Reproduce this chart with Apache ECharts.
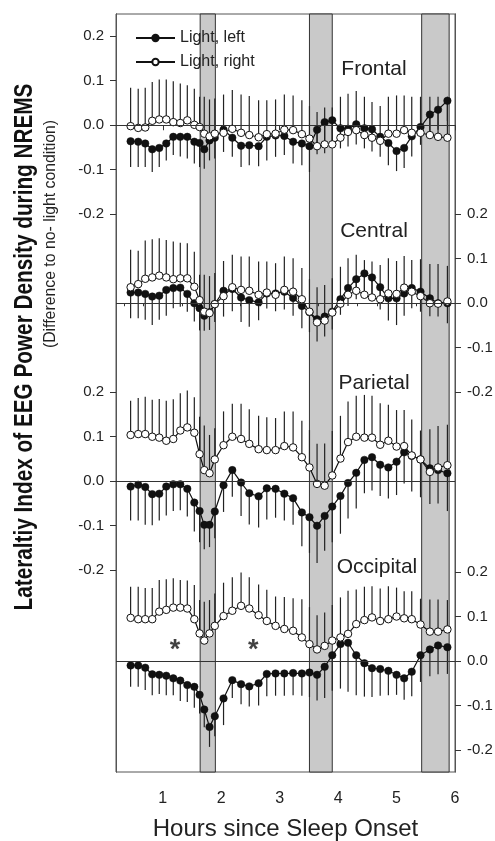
<!DOCTYPE html>
<html>
<head>
<meta charset="utf-8">
<script src="https://cdn.jsdelivr.net/npm/echarts@6/dist/echarts.min.js"></script>
<style>
html,body{margin:0;padding:0;background:#fff;}
#c{width:495px;height:841px;}
</style>
</head>
<body>
<div id="c"></div>
<script>
// ---- data ----
const hours = [0.45,0.58,0.70,0.82,0.94,1.06,1.18,1.30,1.42,1.54,1.63,1.71,1.80,1.89,2.04,2.19,2.34,2.48,2.64,2.78,2.93,3.08,3.23,3.38,3.51,3.64,3.77,3.90,4.04,4.17,4.31,4.45,4.58,4.72,4.86,5.00,5.13,5.26,5.41,5.57,5.71,5.87];

const frontalLeft = [-0.036,-0.037,-0.041,-0.054,-0.051,-0.041,-0.026,-0.026,-0.026,-0.037,-0.040,-0.054,-0.034,-0.028,-0.010,-0.028,-0.046,-0.045,-0.047,-0.026,-0.023,-0.024,-0.037,-0.041,-0.047,-0.010,0.007,0.011,-0.007,-0.008,0.002,-0.007,-0.009,-0.026,-0.040,-0.058,-0.051,-0.025,-0.004,0.024,0.035,0.055];
const frontalLeftSem = [0.058,0.057,0.053,0.051,0.043,0.038,0.041,0.044,0.049,0.049,0.054,0.044,0.045,0.047,0.050,0.043,0.048,0.045,0.045,0.053,0.048,0.043,0.049,0.049,0.058,0.055,0.070,0.060,0.045,0.040,0.045,0.045,0.050,0.045,0.050,0.045,0.045,0.045,0.040,0.045,0.045,0.045];
const frontalRight = [-0.002,-0.006,-0.005,0.010,0.013,0.013,0.007,0.005,0.011,0.001,-0.004,-0.019,-0.025,-0.019,-0.017,-0.008,-0.017,-0.022,-0.027,-0.020,-0.019,-0.010,-0.011,-0.020,-0.030,-0.047,-0.043,-0.043,-0.028,-0.015,-0.011,-0.022,-0.028,-0.035,-0.019,-0.019,-0.011,-0.017,-0.017,-0.022,-0.026,-0.028];
const frontalRightSem = [0.086,0.088,0.089,0.087,0.090,0.090,0.092,0.089,0.079,0.081,0.068,0.083,0.083,0.079,0.086,0.087,0.086,0.088,0.083,0.076,0.077,0.079,0.078,0.076,0.073,0.077,0.083,0.083,0.092,0.086,0.088,0.086,0.080,0.078,0.083,0.086,0.078,0.081,0.081,0.086,0.090,0.092];

const centralLeft = [0.024,0.024,0.021,0.015,0.017,0.030,0.034,0.035,0.021,0.000,-0.011,-0.028,-0.020,-0.002,0.028,0.032,0.013,0.007,0.002,0.022,0.022,0.026,0.012,-0.006,-0.020,-0.036,-0.030,-0.019,0.009,0.034,0.054,0.067,0.058,0.036,0.011,0.011,0.022,0.034,0.026,0.011,0.000,0.000];
const centralLeftSem = [0.058,0.058,0.058,0.064,0.054,0.058,0.045,0.043,0.040,0.041,0.050,0.034,0.040,0.040,0.058,0.050,0.055,0.060,0.040,0.034,0.040,0.040,0.040,0.050,0.045,0.050,0.045,0.040,0.035,0.040,0.045,0.045,0.045,0.050,0.050,0.060,0.050,0.045,0.045,0.040,0.030,0.045];
const centralRight = [0.036,0.043,0.055,0.058,0.062,0.058,0.054,0.056,0.056,0.037,0.007,-0.019,-0.022,-0.002,0.016,0.036,0.030,0.028,0.019,0.024,0.019,0.030,0.026,0.009,-0.019,-0.043,-0.039,-0.021,-0.001,0.019,0.028,0.019,0.013,0.009,0.022,0.021,0.035,0.026,0.016,0.000,-0.001,0.004];
const centralRightSem = [0.084,0.075,0.086,0.086,0.084,0.084,0.085,0.080,0.079,0.079,0.057,0.083,0.083,0.070,0.079,0.073,0.075,0.077,0.075,0.070,0.071,0.075,0.075,0.070,0.073,0.079,0.080,0.077,0.083,0.082,0.081,0.078,0.081,0.077,0.079,0.074,0.071,0.071,0.083,0.088,0.089,0.080];

const parietalLeft = [-0.012,-0.008,-0.013,-0.029,-0.028,-0.012,-0.007,-0.007,-0.017,-0.048,-0.067,-0.098,-0.098,-0.068,-0.009,0.025,-0.003,-0.027,-0.034,-0.016,-0.017,-0.028,-0.038,-0.070,-0.081,-0.100,-0.078,-0.057,-0.033,-0.004,0.019,0.048,0.054,0.037,0.031,0.044,0.065,0.057,0.049,0.029,0.025,0.018];
const parietalLeftSem = [0.076,0.080,0.085,0.070,0.060,0.065,0.060,0.058,0.062,0.065,0.070,0.055,0.050,0.060,0.060,0.060,0.075,0.070,0.070,0.070,0.065,0.060,0.060,0.076,0.080,0.084,0.078,0.080,0.085,0.080,0.080,0.075,0.075,0.070,0.070,0.075,0.070,0.080,0.085,0.080,0.075,0.085];
const parietalRight = [0.104,0.106,0.106,0.100,0.098,0.091,0.095,0.114,0.121,0.109,0.061,0.025,0.018,0.049,0.081,0.100,0.095,0.084,0.072,0.070,0.070,0.079,0.076,0.054,0.031,-0.006,-0.010,0.013,0.051,0.088,0.100,0.098,0.098,0.082,0.091,0.078,0.079,0.058,0.049,0.021,0.031,0.036];
const parietalRightSem = [0.077,0.081,0.084,0.083,0.087,0.090,0.089,0.084,0.083,0.080,0.084,0.100,0.086,0.070,0.076,0.074,0.079,0.078,0.075,0.074,0.072,0.078,0.081,0.082,0.084,0.090,0.095,0.100,0.096,0.091,0.092,0.096,0.094,0.093,0.081,0.082,0.081,0.081,0.065,0.096,0.093,0.091];

const occipitalLeft = [-0.010,-0.010,-0.015,-0.030,-0.031,-0.033,-0.039,-0.044,-0.054,-0.058,-0.076,-0.109,-0.148,-0.124,-0.084,-0.043,-0.052,-0.057,-0.050,-0.029,-0.028,-0.028,-0.027,-0.028,-0.026,-0.031,-0.013,0.013,0.038,0.041,0.013,-0.005,-0.016,-0.018,-0.022,-0.031,-0.039,-0.024,0.013,0.026,0.035,0.031];
const occipitalLeftSem = [0.048,0.048,0.050,0.047,0.043,0.044,0.038,0.046,0.038,0.047,0.042,0.040,0.045,0.045,0.060,0.040,0.045,0.045,0.050,0.050,0.050,0.050,0.050,0.050,0.055,0.058,0.070,0.080,0.100,0.110,0.090,0.075,0.065,0.060,0.055,0.045,0.048,0.055,0.060,0.060,0.065,0.060];
const occipitalRight = [0.097,0.094,0.094,0.094,0.111,0.115,0.120,0.120,0.118,0.094,0.062,0.046,0.062,0.079,0.101,0.113,0.124,0.118,0.103,0.090,0.079,0.072,0.068,0.053,0.038,0.026,0.034,0.046,0.053,0.061,0.083,0.092,0.098,0.090,0.094,0.100,0.096,0.094,0.082,0.066,0.066,0.071];
const occipitalRightSem = [0.070,0.073,0.070,0.070,0.071,0.069,0.066,0.062,0.063,0.077,0.075,0.087,0.075,0.073,0.075,0.075,0.075,0.070,0.069,0.070,0.066,0.072,0.073,0.086,0.083,0.077,0.075,0.080,0.090,0.097,0.078,0.075,0.070,0.073,0.074,0.065,0.061,0.063,0.058,0.072,0.072,0.066];

const lightBands = [[1.64, 1.90], [3.51, 3.90], [5.43, 5.90]];
const xTickLabels = [1, 2, 3, 4, 5, 6];
const xMinorTicks = [0.333, 0.667, 1.333, 1.667, 2.333, 2.667, 3.333, 3.667, 4.333, 4.667, 5.333, 5.667];
const yTickLabels = [-0.2, -0.1, 0.0, 0.1, 0.2];
const panelNames = ['Frontal', 'Central', 'Parietal', 'Occipital'];
const asteriskHours = [1.21, 2.55];
const asteriskValues = [0.036, 0.036];
const seriesNames = ['Light, left', 'Light, right'];

// ---- layout / styling ----
const FONT = '"Liberation Sans", Arial, Helvetica, sans-serif';
const panels = [
  {left: frontalLeft, leftSem: frontalLeftSem, right: frontalRight, rightSem: frontalRightSem, max: 0.25, side: 'left', label: [374, 69]},
  {left: centralLeft, leftSem: centralLeftSem, right: centralRight, rightSem: centralRightSem, max: 0.65, side: 'right', label: [374, 231]},
  {left: parietalLeft, leftSem: parietalLeftSem, right: parietalRight, rightSem: parietalRightSem, max: 1.05, side: 'left', label: [374, 383]},
  {left: occipitalLeft, leftSem: occipitalLeftSem, right: occipitalRight, rightSem: occipitalRightSem, max: 1.454, side: 'right', label: [377, 567]}
];
const SPAN = 1.7034;

const yAxes = panels.map(p => ({
  type: 'value', gridIndex: 0, position: p.side, offset: 0,
  min: p.max - SPAN, max: p.max,
  axisLine: {show: true, lineStyle: {color: '#555', width: 1}},
  axisTick: {show: true, customValues: yTickLabels, length: 6, lineStyle: {color: '#333'}},
  axisLabel: {show: true, customValues: yTickLabels, formatter: v => Number(v).toFixed(1), fontSize: 15, color: '#222', margin: 12, fontFamily: FONT},
  splitLine: {show: false}
}));

function errorSeries(idx, means, sems, dir) {
  return {
    type: 'custom', xAxisIndex: 0, yAxisIndex: idx, silent: true, z: 2,
    data: hours.map((h, k) => [h, means[k], means[k] + dir * sems[k]]),
    encode: {x: 0, y: [1, 2]},
    renderItem: function (params, api) {
      const a = api.coord([api.value(0), api.value(1)]);
      const b = api.coord([api.value(0), api.value(2)]);
      return {type: 'line', shape: {x1: a[0], y1: a[1], x2: b[0], y2: b[1]}, style: {stroke: '#222', lineWidth: 1.2}};
    }
  };
}

const series = [];
// light exposure bands
series.push({
  type: 'custom', xAxisIndex: 0, yAxisIndex: 0, silent: true, z: 0,
  data: lightBands,
  encode: {x: [0, 1]},
  renderItem: function (params, api) {
    const a = api.coord([api.value(0), 0]);
    const b = api.coord([api.value(1), 0]);
    const cs = params.coordSys;
    return {type: 'rect', shape: {x: a[0], y: cs.y, width: b[0] - a[0], height: cs.height},
      style: {fill: '#c9c9c9', stroke: '#333', lineWidth: 1}};
  }
});
panels.forEach((p, i) => {
  series.push(errorSeries(i, p.left, p.leftSem, -1));
  series.push(errorSeries(i, p.right, p.rightSem, 1));
});
panels.forEach((p, i) => {
  series.push({
    name: seriesNames[0], type: 'line', xAxisIndex: 0, yAxisIndex: i, z: 3,
    data: hours.map((h, k) => [h, p.left[k]]),
    symbol: 'circle', symbolSize: 7.5, showSymbol: true,
    lineStyle: {color: '#111', width: 1.2},
    itemStyle: {color: '#111', borderColor: '#111', borderWidth: 0.5},
    markLine: {silent: true, symbol: 'none', label: {show: false},
      lineStyle: {color: '#333', width: 1, type: 'solid'}, data: [{yAxis: 0}]}
  });
  series.push({
    name: seriesNames[1], type: 'line', xAxisIndex: 0, yAxisIndex: i, z: 4,
    data: hours.map((h, k) => [h, p.right[k]]),
    symbol: 'circle', symbolSize: 7.5, showSymbol: true,
    lineStyle: {color: '#111', width: 1.2},
    itemStyle: {color: '#fff', borderColor: '#111', borderWidth: 1}
  });
});
series.push({
  type: 'scatter', xAxisIndex: 0, yAxisIndex: 3, z: 5, silent: true,
  data: asteriskHours.map((h, k) => [h, asteriskValues[k]]),
  symbolSize: 1, itemStyle: {color: 'rgba(0,0,0,0)'},
  label: {show: true, position: 'inside', formatter: '*', fontSize: 27, fontWeight: 'bold', color: '#111', offset: [0, 6], fontFamily: FONT}
});

const graphics = panels.map((p, i) => ({
  type: 'text', x: p.label[0], y: p.label[1], z: 10,
  style: {text: panelNames[i], fontSize: 21, fontFamily: FONT, fill: '#222', textAlign: 'center', textVerticalAlign: 'middle'}
}));
graphics.push({
  type: 'text', x: 25, y: 347, rotation: Math.PI / 2, scaleX: 0.83, z: 10,
  style: {text: 'Lateraltiy Index of EEG Power Density during NREMS', fontSize: 25, fontWeight: 'bold',
    fontFamily: FONT, fill: '#111',
    textAlign: 'center', textVerticalAlign: 'middle'}
});
graphics.push({
  type: 'text', x: 50, y: 234, rotation: Math.PI / 2, scaleX: 0.93, z: 10,
  style: {text: '(Difference to no- light condition)', fontSize: 17, fontFamily: FONT, fill: '#222',
    textAlign: 'center', textVerticalAlign: 'middle'}
});

const option = {
  animation: false,
  backgroundColor: '#fff',
  textStyle: {fontFamily: FONT},
  grid: {left: 116, right: 40, top: 14, bottom: 69, show: true, borderColor: '#555', borderWidth: 1,
    backgroundColor: 'transparent', containLabel: false, outerBoundsMode: 'none'},
  legend: {
    data: seriesNames, orient: 'vertical', left: 135, top: 30, padding: 0,
    itemWidth: 39, itemHeight: 8, itemGap: 8,
    textStyle: {fontSize: 16, color: '#222', fontFamily: FONT}
  },
  xAxis: [
    {type: 'value', gridIndex: 0, position: 'bottom', min: 0.2, max: 6,
      axisLine: {show: true, lineStyle: {color: '#333'}},
      axisTick: {show: true, customValues: xTickLabels, length: 5, lineStyle: {color: '#333'}},
      axisLabel: {show: true, customValues: xTickLabels, fontSize: 16, color: '#222', margin: 19, fontFamily: FONT},
      splitLine: {show: false},
      name: 'Hours since Sleep Onset', nameLocation: 'middle', nameGap: 45,
      nameTextStyle: {fontSize: 24, color: '#222', fontFamily: FONT}},
    {type: 'value', gridIndex: 0, position: 'bottom', min: 0.2, max: 6,
      axisLine: {show: false},
      axisTick: {show: true, customValues: xMinorTicks, length: 3, lineStyle: {color: '#333'}},
      axisLabel: {show: false},
      splitLine: {show: false}}
  ],
  yAxis: yAxes,
  series: series,
  graphic: graphics
};

const chart = echarts.init(document.getElementById('c'), null, {renderer: 'canvas'});
chart.setOption(option);
</script>
</body>
</html>
